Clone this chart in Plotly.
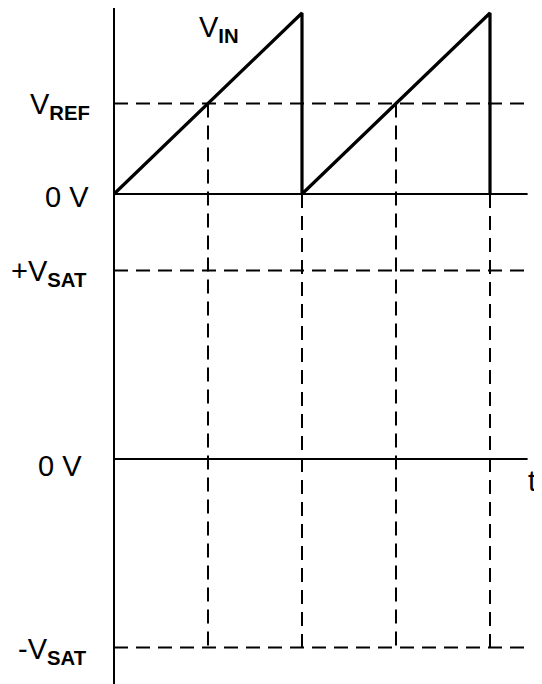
import plotly.graph_objects as go

# comparator timing diagram: sawtooth input vs. reference, output levels
t_saw = [0, 1, 1, 2, 2]
v_in = [0, 1, 0, 1, 0]
v_ref = 0.5
v_sat = 1.0
t_cross = [0.5, 1.5]     # v_in crosses v_ref
t_reset = [1, 2]         # sawtooth drops back to 0
t_end = 2.2

# axis ranges (input on y, output on y2, both full height)
xr = [-0.5638, 2.2766]
yr = [-2.7072, 1.0276]
y2r = [-1.1936, 2.3926]


def to_y2(v):
    f = (v - yr[0]) / (yr[1] - yr[0])
    return y2r[0] + f * (y2r[1] - y2r[0])


BLACK = "black"
DASH = "14px,8px"

fig = go.Figure()

# input panel
fig.add_trace(go.Scatter(x=[0, t_end], y=[0, 0], mode="lines",
                         line=dict(color=BLACK, width=2)))
fig.add_trace(go.Scatter(x=[0, t_end], y=[v_ref, v_ref], mode="lines",
                         line=dict(color=BLACK, width=2, dash=DASH)))
fig.add_trace(go.Scatter(x=t_saw, y=v_in, mode="lines",
                         line=dict(color=BLACK, width=3.2)))

# output panel
fig.add_trace(go.Scatter(x=[0, t_end], y=[0, 0], mode="lines", yaxis="y2",
                         line=dict(color=BLACK, width=2)))
for lvl in [v_sat, -v_sat]:
    fig.add_trace(go.Scatter(x=[0, t_end], y=[lvl, lvl], mode="lines", yaxis="y2",
                             line=dict(color=BLACK, width=2, dash=DASH)))

# vertical guides down to -Vsat
for tc in t_cross:
    fig.add_trace(go.Scatter(x=[tc, tc], y=[to_y2(v_ref), -v_sat], mode="lines",
                             yaxis="y2", line=dict(color=BLACK, width=2, dash=DASH)))
for tr in t_reset:
    fig.add_trace(go.Scatter(x=[tr, tr], y=[to_y2(0), -v_sat], mode="lines",
                             yaxis="y2", line=dict(color=BLACK, width=2, dash=DASH)))

# vertical axis
fig.add_shape(type="line", xref="x", yref="paper", x0=0, x1=0, y0=0, y1=1,
              line=dict(color=BLACK, width=2))

FONT = dict(family="Liberation Sans, Arial, sans-serif", size=29, color=BLACK)


def label(text, y, yref="y", xshift=-24, yshift=0):
    fig.add_annotation(x=0, y=y, xref="x", yref=yref, text=text, showarrow=False,
                       xanchor="right", yanchor="middle", xshift=xshift,
                       yshift=yshift, font=FONT)


label("V<sub><b>REF</b></sub>", v_ref, xshift=-22, yshift=-2)
label("0 V", 0, xshift=-23, yshift=-3)
label("+V<sub><b>SAT</b></sub>", v_sat, yref="y2", xshift=-25, yshift=-2)
label("0 V", 0, yref="y2", xshift=-30, yshift=-7)
label("-V<sub><b>SAT</b></sub>", -v_sat, yref="y2", xshift=-25, yshift=-3)

fig.add_annotation(x=0.56, y=0.91, text="V<sub><b>IN</b></sub>", showarrow=False,
                   xanchor="center", yanchor="middle", font=FONT)
fig.add_annotation(x=t_end, y=0, yref="y2", text="t", showarrow=False,
                   xanchor="left", yanchor="top", xshift=-2, yshift=-4, font=FONT)

fig.update_layout(
    width=534, height=676,
    margin=dict(l=0, r=0, t=0, b=0),
    paper_bgcolor="white", plot_bgcolor="white",
    showlegend=False, hovermode=False,
    xaxis=dict(range=xr, visible=False, domain=[0, 1]),
    yaxis=dict(range=yr, visible=False, domain=[0, 1]),
    yaxis2=dict(range=y2r, visible=False, overlaying="y"),
)

fig.write_html("out.html", config={"displayModeBar": False})
